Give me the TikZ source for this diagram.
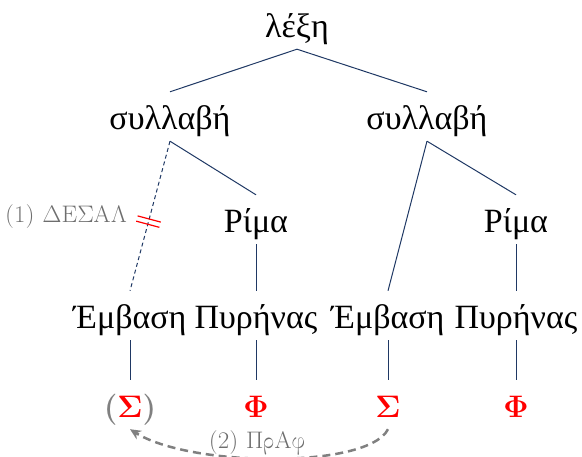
\documentclass[tikz,border=0pt]{standalone}
\usepackage[OT1,LGR,TU]{fontenc}
\usepackage{fontspec}
\newfontfamily\tnr{Liberation Serif}
\usetikzlibrary{calc,arrows.meta}
\definecolor{linkblue}{RGB}{31,56,100}
\definecolor{labgray}{RGB}{110,110,110}
\definecolor{pgray}{RGB}{128,128,128}
\definecolor{arrgray}{RGB}{128,128,128}
\newcommand\grf{\fontencoding{LGR}\fontfamily{cmr}\selectfont}
\newcommand\lbl[1]{\scalebox{0.96}{#1}}
\newcommand\sy[1]{\scalebox{1.25}{#1}}
\newcommand\SSig{\char6 }
\newcommand\PPhi{\char8 }
\begin{document}
\begin{tikzpicture}[x=1pt,y=-1pt,
  tree/.style={font=\tnr\fontsize{34}{40}\selectfont, inner sep=0pt, text height=37pt, text depth=12pt, anchor=base},
  sym/.style={tree, font=\fontencoding{OT1}\fontfamily{cmr}\fontseries{bx}\fontshape{n}\fontsize{24.88}{30}\selectfont, text=red},
  lab/.style={font=\grf\fontsize{24.88}{28}\selectfont, text=labgray, inner sep=0pt, anchor=base},
  edge/.style={draw=linkblue, line width=1pt},
  cut/.style={edge, dash pattern=on 4pt off 3pt},
  cutmark/.style={draw=red, line width=1.2pt},
  move/.style={draw=arrgray, line width=2.5pt, dash pattern=on 8pt off 5pt, -{Stealth[length=11pt,width=10pt]}}
]
\useasboundingbox (0,0) rectangle (582,456);
\node[tree] (root) at (297,37) {λέξη};
\node[tree] (s1) at (170,129) {συλλαβή};
\node[tree] (s2) at (427,129) {συλλαβή};
\node[tree] (r1) at (256,232) {Ρίμα};
\node[tree] (r2) at (516,232) {Ρίμα};
\node[tree] (e1) at (130,328) {Έμβαση};
\node[tree] (p1) at (256,328) {Πυρήνας};
\node[tree] (e2) at (388,328) {Έμβαση};
\node[tree] (p2) at (516,328) {Πυρήνας};
\node[sym] (f1) at (130,417) {\sy{\textcolor{pgray}{(}\SSig\textcolor{pgray}{)}}};
\node[sym] (f2) at (256,417) {\sy{\PPhi}};
\node[sym] (f3) at (388,417) {\sy{\SSig}};
\node[sym] (f4) at (516,417) {\sy{\PPhi}};
\draw[edge] (root.south) -- (s1.north);
\draw[edge] (root.south) -- (s2.north);
\draw[cut] (s1.south) -- coordinate[pos=0.52] (k1) coordinate[pos=0.555] (k2) (e1.north);
\draw[edge] (s1.south) -- (r1.north);
\draw[edge] (s2.south) -- (e2.north);
\draw[edge] (s2.south) -- (r2.north);
\draw[edge] (r1.south) -- (p1.north);
\draw[edge] (r2.south) -- (p2.north);
\draw[edge] (e1.south) -- (f1.north);
\draw[edge] (p1.south) -- (f2.north);
\draw[edge] (e2.south) -- (f3.north);
\draw[edge] (p2.south) -- (f4.north);
\draw[cutmark] ($(k1)!12pt!90:(e1.north)$) -- ($(k1)!12pt!-90:(e1.north)$);
\draw[cutmark] ($(k2)!12pt!90:(e1.north)$) -- ($(k2)!12pt!-90:(e1.north)$);
\node[lab] (l1) at (66,222) {\lbl{(1) DESAL}};
\node[lab] (l2) at (257,448) {\lbl{(2) PrAf}};
\draw[move] (f3.south) .. controls +(-20,40) and +(60,38) .. (f1.south);
\end{tikzpicture}
\end{document}
